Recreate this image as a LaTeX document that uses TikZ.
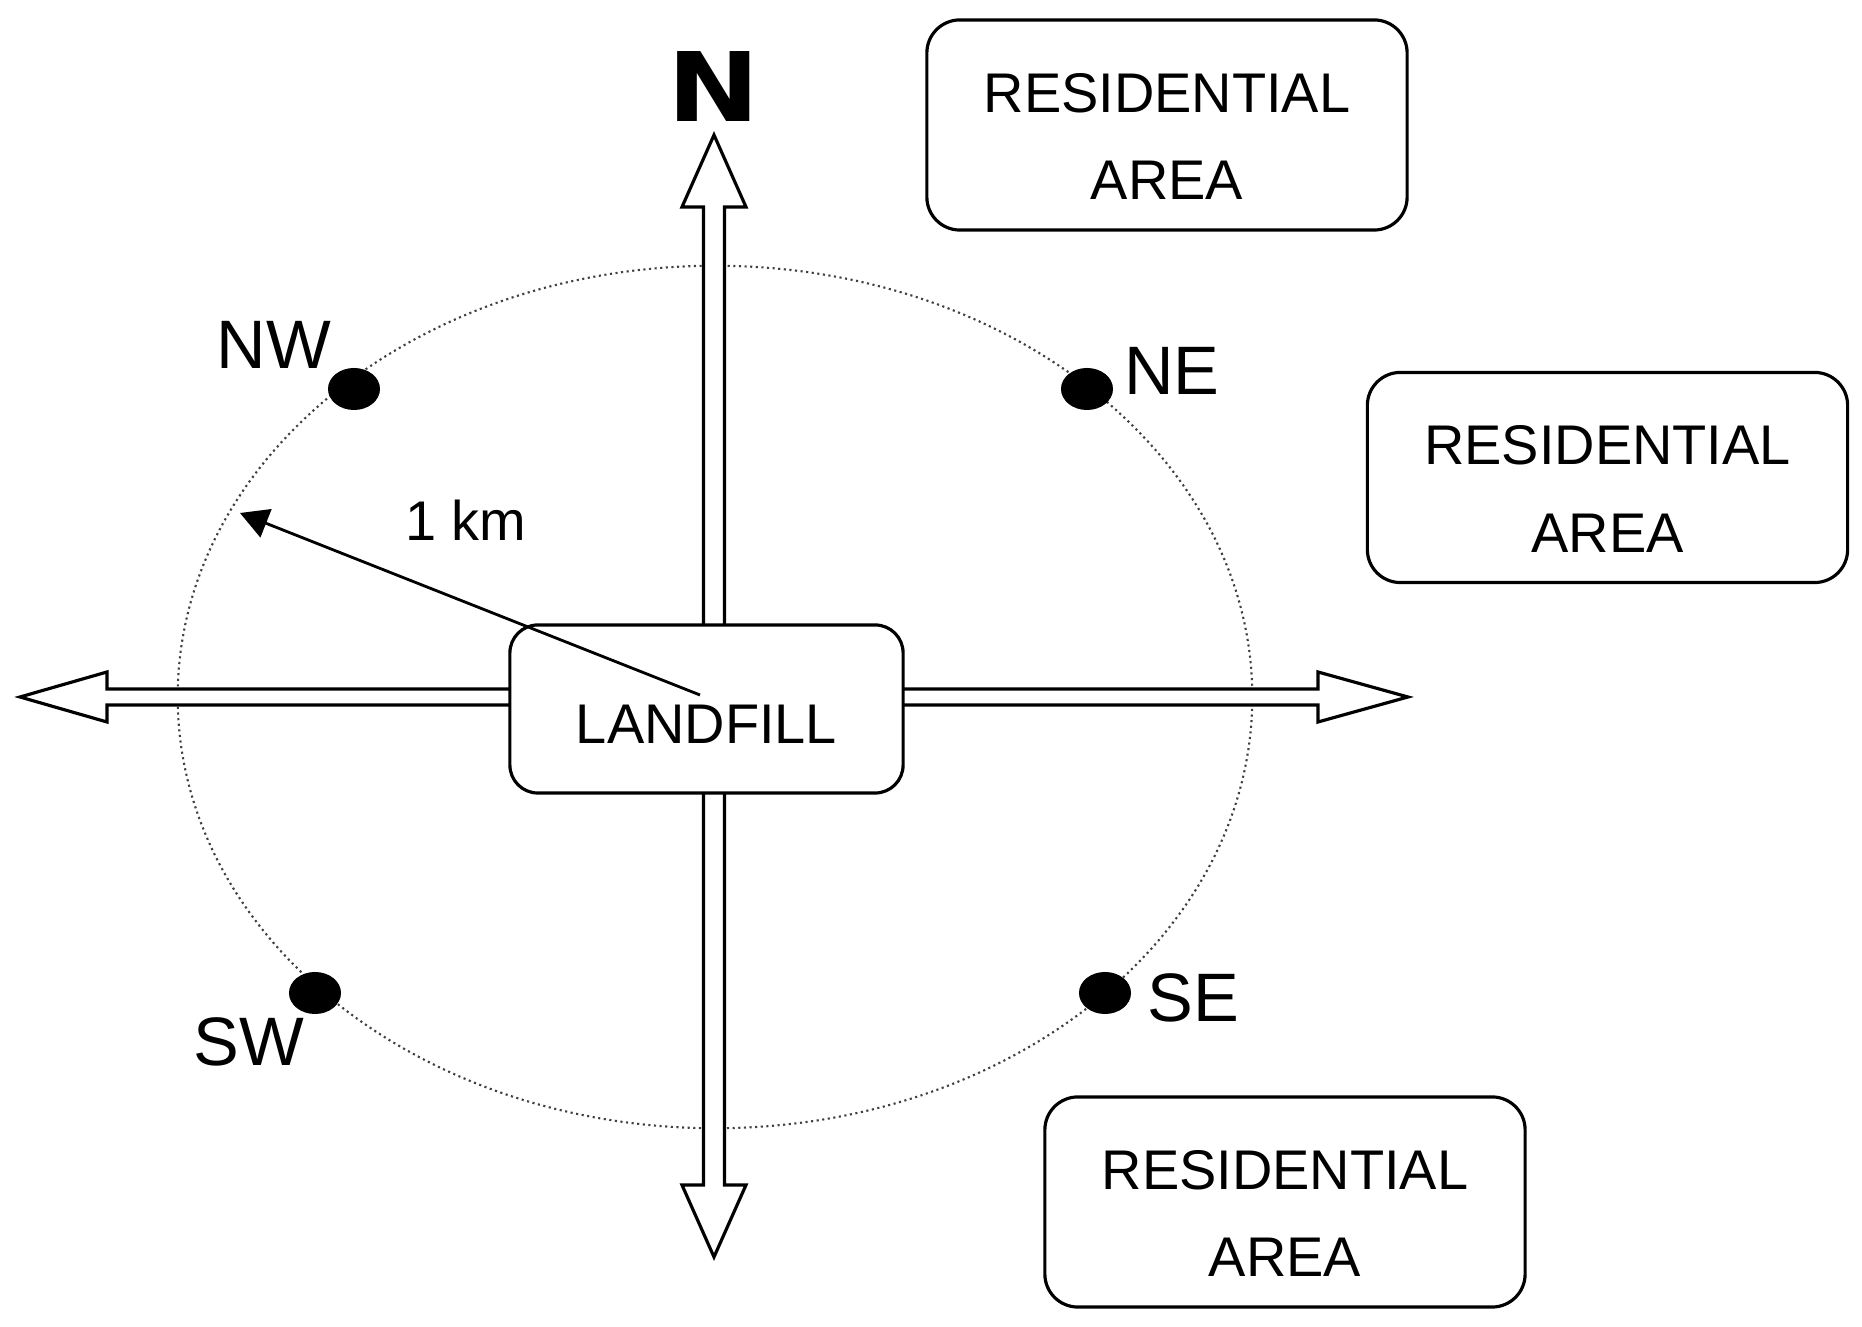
\documentclass[tikz,border=0pt]{standalone}
\usepackage{fontspec}
\setmainfont{Liberation Sans}
\newfontfamily\northfont{DejaVu Sans}
\usetikzlibrary{arrows.meta,shapes.geometric}

\begin{document}
\begin{tikzpicture}[x=0.01cm,y=0.01cm,
    areabox/.style={draw, line width=0.9pt, rounded corners=0.33cm,
        minimum width=4.8cm, minimum height=2.1cm, align=center,
        font=\fontsize{15.9}{25}\selectfont},
    fillbox/.style={draw, fill=white, line width=0.9pt, rounded corners=0.28cm,
        minimum width=3.93cm, minimum height=1.68cm,
        font=\fontsize{15.9}{19}\selectfont, text height=0.68cm, text depth=0cm},
    site/.style={ellipse, fill=black, inner sep=0pt,
        minimum width=0.52cm, minimum height=0.42cm},
    dir/.style={font=\fontsize{19.5}{23}\selectfont},
    road/.style={draw, fill=white, line width=0.9pt, line join=miter}
]
    \useasboundingbox (0,0) rectangle (1862,1327);%page size

    \draw[black!75, densely dotted, line width=0.6pt] (715,630) ellipse [x radius=5.37cm, y radius=4.31cm];

    % roads
    \draw[road] (703.5,702) -- (703.5,1120) -- (682,1120) -- (714,1192) -- (746,1120) -- (724.5,1120) -- (724.5,702);
    \draw[road] (703.5,534) -- (703.5,142) -- (682,142) -- (714,70) -- (746,142) -- (724.5,142) -- (724.5,534);
    \draw[road] (510,638) -- (107,638) -- (107,655) -- (20,630) -- (107,605) -- (107,622) -- (510,622);
    \draw[road] (903,638) -- (1318,638) -- (1318,655) -- (1408,630) -- (1318,605) -- (1318,622) -- (903,622);

    \node[fillbox] (lf) at (706.5,618) {LANDFILL};

    \coordinate (r0) at (700,632);
    \coordinate (r1) at (240,814);
    \draw[-{Triangle[length=0.28cm,width=0.3cm]}, line width=0.8pt] (r0) -- (r1);
    \node[font=\fontsize{15.9}{19}\selectfont] (km) at (466,807) {1 km};

    % sampling points
    \node[site] (nw) at (354,938) {};
    \node[site] (ne) at (1087,938) {};
    \node[site] (sw) at (315,334) {};
    \node[site] (se) at (1105,334) {};

    \node[dir] (nw-l) at (274,982) {NW};
    \node[dir] (ne-l) at (1172,956) {NE};
    \node[dir] (sw-l) at (249,285) {SW};
    \node[dir] (se-l) at (1193,329) {SE};

    \node[font=\northfont\bfseries\fontsize{27.3}{30}\selectfont, xscale=1.15] (north) at (714,1240) {N};

    \node[areabox] (res-n) at (1167,1202) {\rule{0pt}{0.62cm}RESIDENTIAL\\AREA};
    \node[areabox] (res-e) at (1607.5,849.5) {\rule{0pt}{0.62cm}RESIDENTIAL\\AREA};
    \node[areabox] (res-s) at (1285,125) {\rule{0pt}{0.62cm}RESIDENTIAL\\AREA};
\end{tikzpicture}
\end{document}
